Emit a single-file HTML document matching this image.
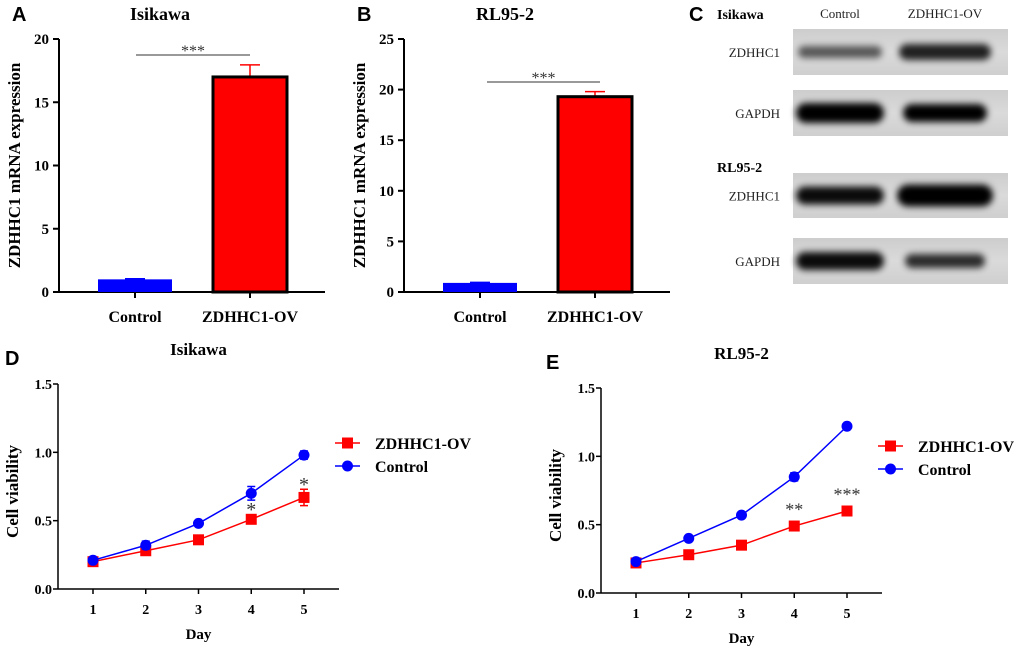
<!DOCTYPE html>
<html><head><meta charset="utf-8"><style>
html,body{margin:0;padding:0;background:#fff;}
svg{display:block;font-family:"Liberation Serif",serif;}
.sans{font-family:"Liberation Sans",sans-serif;}
</style></head><body>
<svg id="fig" width="1020" height="653" viewBox="0 0 1020 653" xmlns="http://www.w3.org/2000/svg">
<defs>
<filter id="blur" x="-20%" y="-60%" width="140%" height="220%"><feGaussianBlur stdDeviation="3.5"/></filter>
<linearGradient id="bg" x1="0" x2="0" y1="0" y2="1"><stop offset="0" stop-color="#cdcdcd"/><stop offset="0.5" stop-color="#dadada"/><stop offset="1" stop-color="#cfcfcf"/></linearGradient>
</defs>
<g id="root"></g>
</svg>
<script>
// Panel A data
const barCatsA = ["Control", "ZDHHC1-OV"];
const barValsA = [1.0, 17.0];
const barErrA = [0.05, 0.95];
// Panel B data
const barCatsB = ["Control", "ZDHHC1-OV"];
const barValsB = [0.9, 19.3];
const barErrB = [0.05, 0.5];
const yTicksA = [0, 5, 10, 15, 20];
const yTicksB = [0, 5, 10, 15, 20, 25];
// Panel D data
const days = [1, 2, 3, 4, 5];
const ovD = [0.20, 0.28, 0.36, 0.51, 0.67];
const ovErrD = [0.01, 0.01, 0.01, 0.01, 0.06];
const ctD = [0.21, 0.32, 0.48, 0.70, 0.98];
const ctErrD = [0.01, 0.03, 0.01, 0.05, 0.03];
const sigD = ["", "", "", "*", "*"];
// Panel E data
const ovE = [0.22, 0.28, 0.35, 0.49, 0.60];
const ovErrE = [0.01, 0.01, 0.03, 0.01, 0.01];
const ctE = [0.23, 0.40, 0.57, 0.85, 1.22];
const ctErrE = [0.01, 0.01, 0.01, 0.03, 0.02];
const sigE = ["", "", "", "**", "***"];
const lineTicks = [0, 0.5, 1.0, 1.5];

const NS = "http://www.w3.org/2000/svg";
const root = document.getElementById("root");
function mk(tag, attrs, parent, text) {
  const e = document.createElementNS(NS, tag);
  for (const k in attrs) e.setAttribute(k, attrs[k]);
  if (text !== undefined) e.textContent = text;
  (parent || root).appendChild(e);
  return e;
}
function txt(x, y, s, size, opts, parent) {
  const a = Object.assign({x: x, y: y, "font-size": size, "text-anchor": "middle", "font-weight": "bold", fill: "#000"}, opts || {});
  return mk("text", a, parent, s);
}

function barPanel(name, ox, yTop, yBot, ymax, ticks, cats, vals, errs, sigY, sigX1, sigX2, title, letter) {
  const g = mk("g", {});
  
  
  const y = v => yBot - v / ymax * (yBot - yTop);
  const t = txt(ox + 101, 20, title, 18, {}, g);
  
  
  const L = txt(ox - 47, 21, letter, 20, {"text-anchor": "start", "class": "sans"}, g);
  
  
  const ya = mk("line", {x1: ox, x2: ox, y1: yTop, y2: yBot, stroke: "#000", "stroke-width": 2}, g);
  
  
  const xa = mk("line", {x1: ox - 1, x2: ox + 266, y1: yBot, y2: yBot, stroke: "#000", "stroke-width": 2}, g);
  
  
  ticks.forEach(v => {
    mk("line", {x1: ox - 6, x2: ox, y1: y(v), y2: y(v), stroke: "#000", "stroke-width": 2}, g);
    const tl = txt(ox - 10, y(v) + 5, String(v), 15, {"text-anchor": "end"}, g);
    
    
  });
  const yl = txt(0, 0, "ZDHHC1 mRNA expression", 17, {transform: "translate(" + (ox - 39) + "," + ((yTop + yBot) / 2) + ") rotate(-90)"}, g);
  
  
  const centers = [ox + 76, ox + 191];
  const colors = ["#0000ff", "#ff0000"];
  cats.forEach((c, i) => {
    const cx = centers[i];
    mk("line", {x1: cx, x2: cx, y1: yBot, y2: yBot + 6, stroke: "#000", "stroke-width": 2}, g);
    const cl = txt(cx, yBot + 30, c, 16, {}, g);
    
    
    const top = y(vals[i]);
    const et = y(vals[i] + errs[i]);
    mk("line", {x1: cx, x2: cx, y1: et, y2: top, stroke: colors[i], "stroke-width": 1.5}, g);
    mk("line", {x1: cx - 10, x2: cx + 10, y1: et, y2: et, stroke: colors[i], "stroke-width": 1.5}, g);
    const b = mk("rect", {x: cx - 37, y: top, width: 74, height: yBot - top, fill: colors[i], stroke: i === 1 ? "#000" : "none", "stroke-width": 3}, g);
    
    
  });
  const sl = mk("line", {x1: sigX1, x2: sigX2, y1: sigY, y2: sigY, stroke: "#333", "stroke-width": 1}, g);
  
  
  const st = txt((sigX1 + sigX2) / 2, sigY + 1, "***", 16, {"font-weight": "normal", fill: "#333"}, g);
  
  
}
barPanel("panel-a-chart", 59, 39, 292, 20, yTicksA, barCatsA, barValsA, barErrA, 55, 136, 250, "Isikawa", "A");
barPanel("panel-b-chart", 404, 39, 292, 25, yTicksB, barCatsB, barValsB, barErrB, 82, 487, 600, "RL95-2", "B");

// Panel C western blot
(function () {
  const g = mk("g", {});
  
  
  const L = txt(689, 21, "C", 20, {"text-anchor": "start", "class": "sans"}, g);
  
  
  txt(717, 19, "Isikawa", 14, {"text-anchor": "start"}, g);
  txt(840, 18, "Control", 13, {"font-weight": "normal", fill: "#222"}, g);
  txt(945, 18, "ZDHHC1-OV", 13, {"font-weight": "normal", fill: "#222"}, g);
  txt(717, 172, "RL95-2", 14, {"text-anchor": "start"}, g);
  const rows = [
    {lab: "ZDHHC1", y0: 29, y1: 75, b: [[840, 0.6, 42, 6], [945, 0.85, 46, 8]]},
    {lab: "GAPDH", y0: 90, y1: 136, b: [[840, 1, 44, 10], [945, 1, 42, 9]]},
    {lab: "ZDHHC1", y0: 173, y1: 218, b: [[840, 0.95, 44, 9], [945, 1, 48, 11]]},
    {lab: "GAPDH", y0: 238, y1: 284, b: [[840, 0.95, 44, 9], [945, 0.8, 40, 7]]}
  ];
  rows.forEach(r => {
    const rl = txt(780, (r.y0 + r.y1) / 2 + 5, r.lab, 13, {"text-anchor": "end", "font-weight": "normal", fill: "#222"}, g);
    
    
    const bx = mk("rect", {x: 793, y: r.y0, width: 215, height: r.y1 - r.y0, fill: "url(#bg)"}, g);
    
    
    const cy = (r.y0 + r.y1) / 2;
    r.b.forEach(b => {
      mk("rect", {x: b[0] - b[2], y: cy - b[3], width: b[2] * 2, height: b[3] * 2, rx: b[3], fill: "#050505", opacity: b[1], filter: "url(#blur)"}, g);
    });
  });
})();

function linePanel(name, ox, yTop, yBot, xRight, x1, dx, ov, ovE, ct, ctE, sig, title, letter, letterX, legX, legY) {
  const g = mk("g", {});
  
  
  const y = v => yBot - v / 1.5 * (yBot - yTop);
  const x = d => x1 + (d - 1) * dx;
  const t = txt(x(3), yTop - 29, title, 17, {}, g);
  
  
  const L = txt(letterX, yTop - 19, letter, 20, {"text-anchor": "start", "class": "sans"}, g);
  
  
  const ya = mk("line", {x1: ox, x2: ox, y1: yTop, y2: yBot, stroke: "#000", "stroke-width": 1.5}, g);
  
  
  const xa = mk("line", {x1: ox, x2: xRight, y1: yBot, y2: yBot, stroke: "#000", "stroke-width": 1.5}, g);
  
  
  lineTicks.forEach(v => {
    mk("line", {x1: ox - 5, x2: ox, y1: y(v), y2: y(v), stroke: "#000", "stroke-width": 1.5}, g);
    const tl = txt(ox - 6, y(v) + 5, v.toFixed(1), 14, {"text-anchor": "end"}, g);
    
    
  });
  days.forEach(d => {
    mk("line", {x1: x(d), x2: x(d), y1: yBot, y2: yBot + 5, stroke: "#000", "stroke-width": 1.5}, g);
    const tl = txt(x(d), yBot + 25, String(d), 14, {}, g);
    
    
  });
  const xt = txt(x(3), yBot + 50, "Day", 15, {}, g);
  
  
  const yt = txt(0, 0, "Cell viability", 17, {transform: "translate(" + (ox - 40) + "," + ((yTop + yBot) / 2 + 5) + ") rotate(-90)"}, g);
  
  
  function series(vals, errs, color, shape, nm) {
    const sg = mk("g", {}, g);
    
    
    mk("polyline", {points: vals.map((v, i) => x(days[i]) + "," + y(v)).join(" "), fill: "none", stroke: color, "stroke-width": 1.5}, sg);
    vals.forEach((v, i) => {
      const px = x(days[i]);
      const e1 = y(v + errs[i]), e2 = y(v - errs[i]);
      mk("path", {d: "M" + px + "," + e1 + "V" + e2 + "M" + (px - 4) + "," + e1 + "H" + (px + 4) + "M" + (px - 4) + "," + e2 + "H" + (px + 4), stroke: color, "stroke-width": 1.5, fill: "none"}, sg);
      const m = shape === "sq" ? mk("rect", {x: px - 5.5, y: y(v) - 5.5, width: 11, height: 11, fill: color}, sg)
                               : mk("circle", {cx: px, cy: y(v), r: 5.5, fill: color}, sg);
      
      
    });
  }
  series(ov, ovE, "#ff0000", "sq", "series-zdhhc1-ov");
  series(ct, ctE, "#0000ff", "circ", "series-control");
  sig.forEach((s, i) => {
    if (!s) return;
    const top = Math.max(ov[i] + ovE[i], ov[i] + 0.04);
    const st = txt(x(days[i]), y(top) + (s.length > 1 ? -5 : 2), s, s.length > 1 ? 18 : 20, {"font-weight": "normal", fill: "#333"}, g);
    
    
  });
  const lg = mk("g", {}, g);
  
  
  [["ZDHHC1-OV", "#ff0000", "sq"], ["Control", "#0000ff", "circ"]].forEach((it, i) => {
    const ly = legY + i * 23;
    mk("line", {x1: legX, x2: legX + 25, y1: ly, y2: ly, stroke: it[1], "stroke-width": 1.5}, lg);
    if (it[2] === "sq") mk("rect", {x: legX + 7, y: ly - 5.5, width: 11, height: 11, fill: it[1]}, lg);
    else mk("circle", {cx: legX + 12.5, cy: ly, r: 5.5, fill: it[1]}, lg);
    const le = txt(legX + 40, ly + 6, it[0], 16, {"text-anchor": "start"}, lg);
    
    
  });
}
linePanel("panel-d-chart", 58, 384, 589, 339, 93, 52.75, ovD, ovErrD, ctD, ctErrD, sigD, "Isikawa", "D", 5, 335, 443);
linePanel("panel-e-chart", 601, 388, 593, 882, 636, 52.75, ovE, ovErrE, ctE, ctErrE, sigE, "RL95-2", "E", 546, 878, 446);
</script>
</body></html>
